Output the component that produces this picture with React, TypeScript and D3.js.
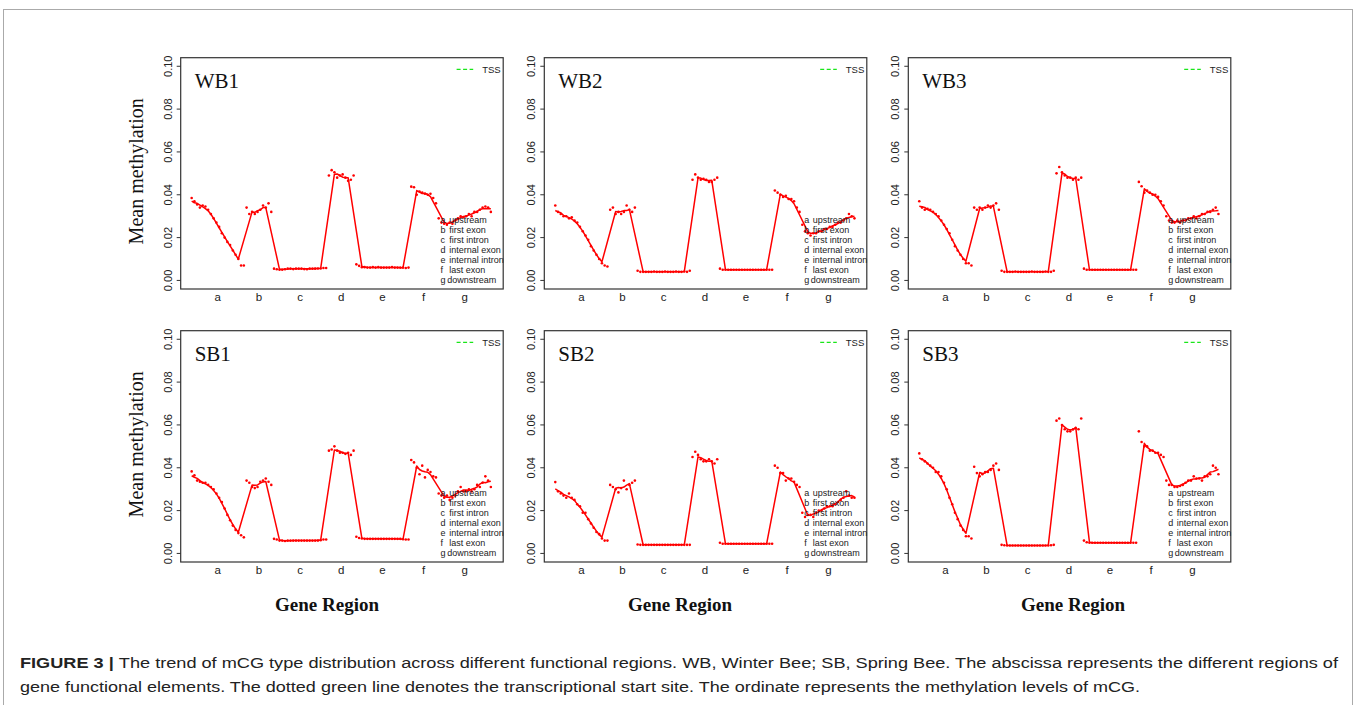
import React from 'react';
import * as d3 from 'd3';

// gene regions, in bin order
const regionKeys = ['a', 'b', 'c', 'd', 'e', 'f', 'g'];
const regionNames = ['upstream', 'first exon', 'first intron', 'internal exon', 'internal intron', 'last exon', 'downstream'];
const regionBins = [20, 10, 20, 10, 20, 10, 20];
const yTicks = [0, 0.02, 0.04, 0.06, 0.08, 0.1];

const panelNames = ['WB1', 'WB2', 'WB3', 'SB1', 'SB2', 'SB3'];

// mean methylation per bin (110 bins)
const WB1 = [
  0.0385, 0.037, 0.0355, 0.034, 0.035, 0.0345, 0.033, 0.031, 0.029, 0.027, 0.025, 0.022, 0.020, 0.018, 0.0165, 0.014, 0.012, 0.010, 0.007, 0.007,
  0.034, 0.031, 0.032, 0.031, 0.032, 0.033, 0.035, 0.034, 0.036, 0.032,
  0.0055, 0.0052, 0.005, 0.005, 0.0052, 0.0055, 0.0055, 0.0053, 0.0055, 0.0055, 0.0055, 0.0053, 0.0052, 0.0055, 0.0055, 0.0055, 0.0056, 0.0056, 0.0058, 0.0058,
  0.049, 0.0515, 0.0505, 0.048, 0.049, 0.0495, 0.048, 0.0465, 0.047, 0.049,
  0.0075, 0.0068, 0.0062, 0.0062, 0.006, 0.006, 0.0062, 0.006, 0.0062, 0.006, 0.006, 0.006, 0.006, 0.0062, 0.006, 0.006, 0.006, 0.006, 0.0058, 0.006,
  0.0438, 0.0435, 0.040, 0.0415, 0.041, 0.0405, 0.040, 0.0405, 0.0385, 0.036,
  0.029, 0.027, 0.0265, 0.026, 0.027, 0.0265, 0.028, 0.029, 0.030, 0.0295, 0.030, 0.031, 0.030, 0.032, 0.032, 0.033, 0.034, 0.0345, 0.034, 0.032,
];
const WB2 = [
  0.035, 0.032, 0.031, 0.030, 0.030, 0.029, 0.0295, 0.028, 0.027, 0.025, 0.023, 0.021, 0.019, 0.016, 0.014, 0.012, 0.010, 0.008, 0.007, 0.0065,
  0.033, 0.034, 0.031, 0.032, 0.031, 0.032, 0.035, 0.033, 0.032, 0.034,
  0.0045, 0.004, 0.004, 0.004, 0.004, 0.004, 0.0042, 0.004, 0.004, 0.004, 0.0042, 0.004, 0.004, 0.004, 0.0042, 0.004, 0.004, 0.0042, 0.004, 0.0045,
  0.047, 0.0495, 0.048, 0.047, 0.0475, 0.047, 0.046, 0.046, 0.047, 0.048,
  0.0055, 0.005, 0.005, 0.005, 0.005, 0.005, 0.005, 0.005, 0.005, 0.005, 0.005, 0.005, 0.005, 0.005, 0.005, 0.005, 0.005, 0.005, 0.005, 0.005,
  0.042, 0.041, 0.040, 0.039, 0.0395, 0.038, 0.038, 0.037, 0.034, 0.032,
  0.026, 0.023, 0.022, 0.021, 0.022, 0.022, 0.023, 0.023, 0.024, 0.024, 0.025, 0.025, 0.026, 0.027, 0.027, 0.028, 0.029, 0.031, 0.030, 0.029,
];
const WB3 = [
  0.037, 0.034, 0.033, 0.0335, 0.033, 0.032, 0.031, 0.030, 0.028, 0.026, 0.024, 0.022, 0.019, 0.016, 0.014, 0.012, 0.010, 0.008, 0.008, 0.007,
  0.034, 0.033, 0.034, 0.033, 0.034, 0.035, 0.034, 0.035, 0.036, 0.033,
  0.0045, 0.004, 0.004, 0.004, 0.004, 0.0042, 0.004, 0.004, 0.004, 0.004, 0.004, 0.0042, 0.004, 0.004, 0.004, 0.004, 0.0042, 0.004, 0.004, 0.0045,
  0.050, 0.053, 0.0505, 0.049, 0.048, 0.048, 0.047, 0.048, 0.047, 0.048,
  0.0055, 0.005, 0.005, 0.005, 0.005, 0.005, 0.005, 0.005, 0.005, 0.005, 0.005, 0.005, 0.005, 0.005, 0.005, 0.005, 0.005, 0.005, 0.005, 0.005,
  0.046, 0.044, 0.041, 0.042, 0.041, 0.040, 0.040, 0.039, 0.037, 0.035,
  0.030, 0.028, 0.027, 0.027, 0.028, 0.027, 0.028, 0.028, 0.029, 0.029, 0.030, 0.029, 0.030, 0.031, 0.031, 0.032, 0.032, 0.033, 0.034, 0.031,
];
const SB1 = [
  0.0383, 0.0365, 0.034, 0.0335, 0.033, 0.033, 0.032, 0.031, 0.030, 0.028, 0.026, 0.024, 0.021, 0.018, 0.0155, 0.013, 0.011, 0.0095, 0.0085, 0.0075,
  0.034, 0.033, 0.031, 0.0305, 0.031, 0.0335, 0.034, 0.035, 0.0335, 0.032,
  0.0068, 0.0065, 0.006, 0.006, 0.0058, 0.006, 0.006, 0.006, 0.006, 0.006, 0.006, 0.006, 0.006, 0.006, 0.006, 0.006, 0.006, 0.0062, 0.0065, 0.0065,
  0.048, 0.0485, 0.050, 0.048, 0.047, 0.047, 0.0465, 0.047, 0.046, 0.048,
  0.0078, 0.0072, 0.007, 0.0068, 0.0068, 0.0068, 0.0068, 0.0068, 0.0068, 0.0068, 0.0068, 0.0068, 0.0068, 0.0068, 0.0068, 0.0068, 0.0068, 0.0066, 0.0065, 0.0065,
  0.0436, 0.0425, 0.040, 0.037, 0.041, 0.0355, 0.039, 0.038, 0.036, 0.0355,
  0.028, 0.027, 0.026, 0.027, 0.025, 0.026, 0.027, 0.029, 0.031, 0.029, 0.029, 0.030, 0.029, 0.030, 0.032, 0.031, 0.033, 0.036, 0.034, 0.031,
];
const SB2 = [
  0.0333, 0.029, 0.028, 0.027, 0.026, 0.028, 0.026, 0.025, 0.023, 0.022, 0.019, 0.019, 0.016, 0.014, 0.012, 0.010, 0.009, 0.007, 0.006, 0.006,
  0.032, 0.031, 0.030, 0.0285, 0.0305, 0.034, 0.030, 0.032, 0.033, 0.034,
  0.0042, 0.004, 0.004, 0.004, 0.004, 0.004, 0.004, 0.004, 0.004, 0.004, 0.004, 0.004, 0.004, 0.004, 0.004, 0.004, 0.004, 0.004, 0.004, 0.004,
  0.045, 0.0475, 0.046, 0.044, 0.043, 0.043, 0.044, 0.043, 0.042, 0.044,
  0.005, 0.0045, 0.0045, 0.0045, 0.0045, 0.0045, 0.0045, 0.0045, 0.0045, 0.0045, 0.0045, 0.0045, 0.0045, 0.0045, 0.0045, 0.0045, 0.0045, 0.0045, 0.0045, 0.0045,
  0.041, 0.040, 0.0375, 0.0375, 0.034, 0.035, 0.035, 0.0335, 0.032, 0.031,
  0.019, 0.017, 0.018, 0.018, 0.017, 0.019, 0.020, 0.020, 0.021, 0.022, 0.022, 0.022, 0.023, 0.024, 0.025, 0.026, 0.029, 0.027, 0.026, 0.026,
];
const SB3 = [
  0.0467, 0.044, 0.043, 0.042, 0.041, 0.040, 0.038, 0.038, 0.036, 0.033, 0.030, 0.026, 0.023, 0.019, 0.016, 0.013, 0.011, 0.008, 0.008, 0.007,
  0.0405, 0.0375, 0.036, 0.037, 0.038, 0.038, 0.039, 0.041, 0.042, 0.039,
  0.004, 0.0038, 0.0037, 0.0037, 0.0037, 0.0037, 0.0037, 0.0037, 0.0037, 0.0037, 0.0037, 0.0037, 0.0037, 0.0037, 0.0037, 0.0037, 0.0037, 0.0037, 0.0038, 0.004,
  0.062, 0.063, 0.060, 0.058, 0.057, 0.057, 0.058, 0.0585, 0.058, 0.063,
  0.006, 0.0052, 0.005, 0.005, 0.005, 0.005, 0.005, 0.005, 0.005, 0.005, 0.005, 0.005, 0.005, 0.005, 0.005, 0.005, 0.005, 0.005, 0.005, 0.005,
  0.057, 0.052, 0.050, 0.050, 0.048, 0.048, 0.047, 0.047, 0.046, 0.045,
  0.034, 0.032, 0.032, 0.031, 0.031, 0.0315, 0.032, 0.033, 0.034, 0.034, 0.036, 0.035, 0.035, 0.034, 0.036, 0.036, 0.037, 0.041, 0.040, 0.037,
];
const panelData = [WB1, WB2, WB3, SB1, SB2, SB3];

// layout
const colLeft = [180.7, 544.3, 908.3];
const rowTop = [57.7, 330.7];
const boxW = 322.5;
const boxH = 231.3;
const xLabelCenter = [327, 680, 1073];

const serif = "'Liberation Serif', 'Times New Roman', serif";
const sans = "'Liberation Sans', Arial, sans-serif";

// smoothed trend inside each region (moving mean over 5 bins), skipping bins near region borders
function trend(vals: number[]): [number, number][] {
  const pts: [number, number][] = [];
  let start = 0;
  regionBins.forEach((n, r) => {
    const seg = vals.slice(start, start + n);
    const from = r === 0 ? 0 : 2;
    const to = r === regionBins.length - 1 ? n - 1 : n - 3;
    for (let i = from; i <= to; i++) {
      const w = seg.slice(Math.max(0, i - 2), Math.min(n, i + 3));
      pts.push([start + i + 1, d3.mean(w) as number]);
    }
    start += n;
  });
  return pts;
}

const Panel: React.FC<{ idx: number }> = ({ idx }) => {
  const col = idx % 3;
  const row = Math.floor(idx / 3);
  const left = colLeft[col];
  const top = rowTop[row];
  const vals = panelData[idx];

  const x = d3.scaleLinear().domain([-3, 114.5]).range([left, left + boxW]);
  const y = d3.scaleLinear().domain([-0.004, 0.104]).range([top + boxH, top]);

  const bounds = d3.cumsum(regionBins).slice(0, -1).map((b) => b + 0.5);
  const starts = [0, ...d3.cumsum(regionBins)];
  const centers = regionBins.map((n, i) => starts[i] + (n + 1) / 2);

  const line = d3.line<[number, number]>()
    .x((d) => x(d[0]))
    .y((d) => y(d[1]));

  const right = left + boxW;

  return (
    <g>
      {bounds.map((b, i) => (
        <line key={i} x1={x(b)} x2={x(b)} y1={top} y2={top + boxH}
          stroke={i === 0 ? '#19e619' : '#222'} strokeWidth={1} strokeDasharray="3,3" />
      ))}
      <path d={line(trend(vals)) || ''} fill="none" stroke="#ff0000" strokeWidth={1.5} strokeLinejoin="round" />
      {vals.map((v, i) => (
        <circle key={i} cx={x(i + 1)} cy={y(v)} r={1.3} fill="#ff0000" />
      ))}
      <rect x={left} y={top} width={boxW} height={boxH} fill="none" stroke="#333" strokeWidth={1.2} />
      {yTicks.map((t) => (
        <g key={t}>
          <line x1={left - 4} x2={left} y1={y(t)} y2={y(t)} stroke="#333" strokeWidth={1} />
          <text transform={`translate(${left - 9},${y(t)}) rotate(-90)`} textAnchor="middle"
            fontFamily={sans} fontSize={11} fill="#222">{t.toFixed(2)}</text>
        </g>
      ))}
      {regionKeys.map((k, i) => (
        <text key={k} x={x(centers[i])} y={top + boxH + 12} textAnchor="middle"
          fontFamily={sans} fontSize={11.5} fill="#222">{k}</text>
      ))}
      <text x={left + 14} y={top + 30.6} fontFamily={serif} fontSize={21} fill="#111">{panelNames[idx]}</text>
      <line x1={right - 46.6} x2={right - 30} y1={top + 11.6} y2={top + 11.6}
        stroke="#19e619" strokeWidth={1.2} strokeDasharray="4,2.5" />
      <text x={right - 21} y={top + 15} fontFamily={sans} fontSize={9.5} fill="#222">TSS</text>
      {regionKeys.map((k, i) => (
        <g key={k} fontFamily={sans} fontSize={9} fill="#222">
          <text x={right - 62.6} y={top + 165.5 + i * 10}>{k}</text>
          <text x={right - (i === 6 ? 56 : 54)} y={top + 165.5 + i * 10}>{regionNames[i]}</text>
        </g>
      ))}
      {col === 0 && (
        <text transform={`translate(${left - 38},${top + boxH / 2 - 2}) rotate(-90)`} textAnchor="middle"
          fontFamily={serif} fontSize={20} fill="#111">Mean methylation</text>
      )}
      {row === 1 && (
        <text x={xLabelCenter[col]} y={top + boxH + 49} textAnchor="middle"
          fontFamily={serif} fontSize={19} fontWeight="bold" fill="#111">Gene Region</text>
      )}
    </g>
  );
};

export default function App() {
  const capFont = "'Liberation Sans Narrow', 'Arial Narrow', 'Liberation Sans', sans-serif";
  return (
    <svg width={1357} height={705} style={{ position: 'absolute', left: 0, top: 0, background: '#fff' }}>
      <rect x={3.5} y={9.5} width={1349} height={720} fill="none" stroke="#aaa" strokeWidth={1} />
      {panelNames.map((_, i) => (
        <Panel key={i} idx={i} />
      ))}
      <text x={20} y={668} fontFamily={capFont} fontSize={15.5} fill="#222" textLength={1318} lengthAdjust="spacingAndGlyphs">
        <tspan fontWeight="bold">FIGURE 3 | </tspan>
        The trend of mCG type distribution across different functional regions. WB, Winter Bee; SB, Spring Bee. The abscissa represents the different regions of
      </text>
      <text x={20} y={692} fontFamily={capFont} fontSize={15.5} fill="#222" textLength={1120} lengthAdjust="spacingAndGlyphs">
        gene functional elements. The dotted green line denotes the transcriptional start site. The ordinate represents the methylation levels of mCG.
      </text>
    </svg>
  );
}
